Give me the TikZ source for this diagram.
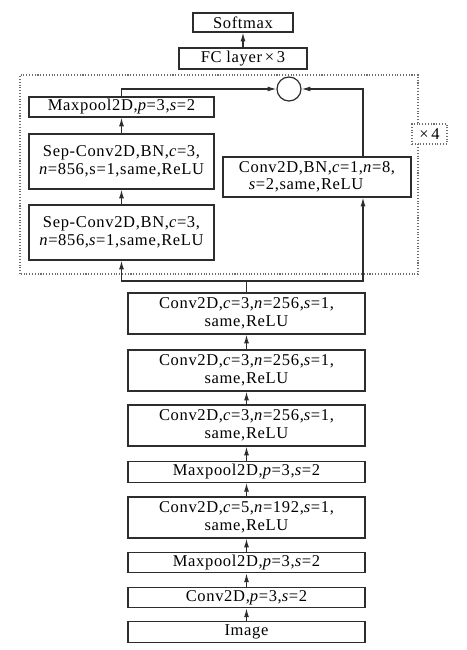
\documentclass[tikz,border=0pt]{standalone}
\usepackage{fontspec}
\setmainfont{Liberation Serif}[LetterSpace=4]
\usepackage{tikz}
\usetikzlibrary{arrows.meta,calc,backgrounds}
\definecolor{line1} {RGB} {45, 45, 45}
\definecolor{frame1} {RGB} {110, 110, 110}
\tikzstyle{cnn}=[
  >={Latex[length=5pt,width=2.8pt]}, line width=0.6pt, font=\fontsize{9.4}{9.9}\selectfont
]
\tikzstyle{cnnnode}=[
  draw=line1, line width=0.7pt, align=center, inner sep=1pt, fill=white
]
\tikzstyle{cnnwide1}=[
  cnnnode, minimum width=4.74cm, minimum height=0.41cm
]
\tikzstyle{cnnwide2}=[
  cnnnode, minimum width=4.74cm, minimum height=0.82cm
]
\tikzstyle{cnnleft}=[
  cnnnode, minimum width=3.70cm
]
\tikzstyle{cnnedge}=[
  line width=0.6pt, draw=line1
]
\tikzstyle{cnnframe}=[
  draw=frame1, densely dotted, line width=0.6pt
]

\begin{document}
\begin{tikzpicture}[cnn]
    \useasboundingbox (-4.93,-0.36) rectangle (4.39,12.64);

    % main stack
    \node (image) [cnnwide1] at (0.0, 0.0) {Image};
    \node (convp) [cnnwide1] at ($(image) + (0, 0.69)$) {Conv2D,\textit{p}=3,\textit{s}=2};
    \node (pool1) [cnnwide1] at ($(image) + (0, 1.39)$) {Maxpool2D,\textit{p}=3,\textit{s}=2};
    \node (conv5) [cnnwide2] at ($(image) + (0, 2.29)$) {Conv2D,\textit{c}=5,\textit{n}=192,\textit{s}=1,\\same,ReLU};
    \node (pool2) [cnnwide1] at ($(image) + (0, 3.20)$) {Maxpool2D,\textit{p}=3,\textit{s}=2};
    \node (conv1) [cnnwide2] at ($(image) + (0, 4.13)$) {Conv2D,\textit{c}=3,\textit{n}=256,\textit{s}=1,\\same,ReLU};
    \node (conv2) [cnnwide2] at ($(image) + (0, 5.23)$) {Conv2D,\textit{c}=3,\textit{n}=256,\textit{s}=1,\\same,ReLU};
    \node (conv3) [cnnwide2] at ($(image) + (0, 6.37)$) {Conv2D,\textit{c}=3,\textit{n}=256,\textit{s}=1,\\same,ReLU};
    \coordinate (split) at ($(image) + (0, 7.02)$);

    % repeated block
    \draw [cnnframe] ($(image) + (-4.53, 7.16)$) rectangle ($(image) + (3.43, 11.14)$);
    \node (sep1) [cnnleft, minimum height=1.10cm] at ($(image) + (-2.50, 7.99)$) {Sep-Conv2D,BN,\textit{c}=3,\\\textit{n}=856,\textit{s}=1,same,ReLU};
    \node (sep2) [cnnleft, minimum height=1.10cm] at ($(image) + (-2.50, 9.41)$) {Sep-Conv2D,BN,\textit{c}=3,\\\textit{n}=856,s=1,same,ReLU};
    \node (pool3) [cnnleft, minimum height=0.40cm] at ($(image) + (-2.50, 10.50)$) {Maxpool2D,\textit{p}=3,\textit{s}=2};
    \node (convbn) [cnnnode, align=left, minimum width=3.76cm, minimum height=0.80cm] at ($(image) + (1.41, 9.10)$) {Conv2D,BN,\textit{c}=1,\textit{n}=8,\\\hspace{0.6em}\textit{s}=2,same,ReLU};
    \node (sum) [circle, draw=line1, line width=0.7pt, minimum size=0.48cm, inner sep=0pt] at ($(image) + (0.85, 10.86)$) {};
    \node (rep) [draw=frame1, densely dotted, fill=white, minimum width=0.70cm, minimum height=0.40cm, inner sep=1pt] at ($(image) + (3.66, 9.96)$) {×\,4};

    % head
    \node (fc) [cnnnode, minimum width=2.56cm, minimum height=0.42cm] at ($(image) + (-0.07, 11.47)$) {FC layer\,×\,3};
    \node (softmax) [cnnnode, minimum width=2.0cm, minimum height=0.38cm] at ($(image) + (-0.07, 12.19)$) {Softmax};

    \begin{scope}[on background layer]
        \draw [cnnedge, ->] (image) -- (convp);
        \draw [cnnedge, ->] (convp) -- (pool1);
        \draw [cnnedge, ->] (pool1) -- (conv5);
        \draw [cnnedge, ->] (conv5) -- (pool2);
        \draw [cnnedge, ->] (pool2) -- (conv1);
        \draw [cnnedge, ->] (conv1) -- (conv2);
        \draw [cnnedge, ->] (conv2) -- (conv3);
        \draw [cnnedge] (conv3) -- (split);
        \draw [cnnedge, ->] (split) -| (sep1);
        \draw [cnnedge, ->] (split) -| ($(convbn.south) + (0.92, 0)$);
        \draw [cnnedge, ->] (sep1) -- (sep2);
        \draw [cnnedge, ->] (sep2) -- (pool3);
        \draw [cnnedge, ->] (pool3) |- (sum);
        \draw [cnnedge, ->] ($(convbn.north) + (0.92, 0)$) |- (sum);
        \draw [cnnedge, ->] (fc) -- (softmax);
    \end{scope}
\end{tikzpicture}
\end{document}
